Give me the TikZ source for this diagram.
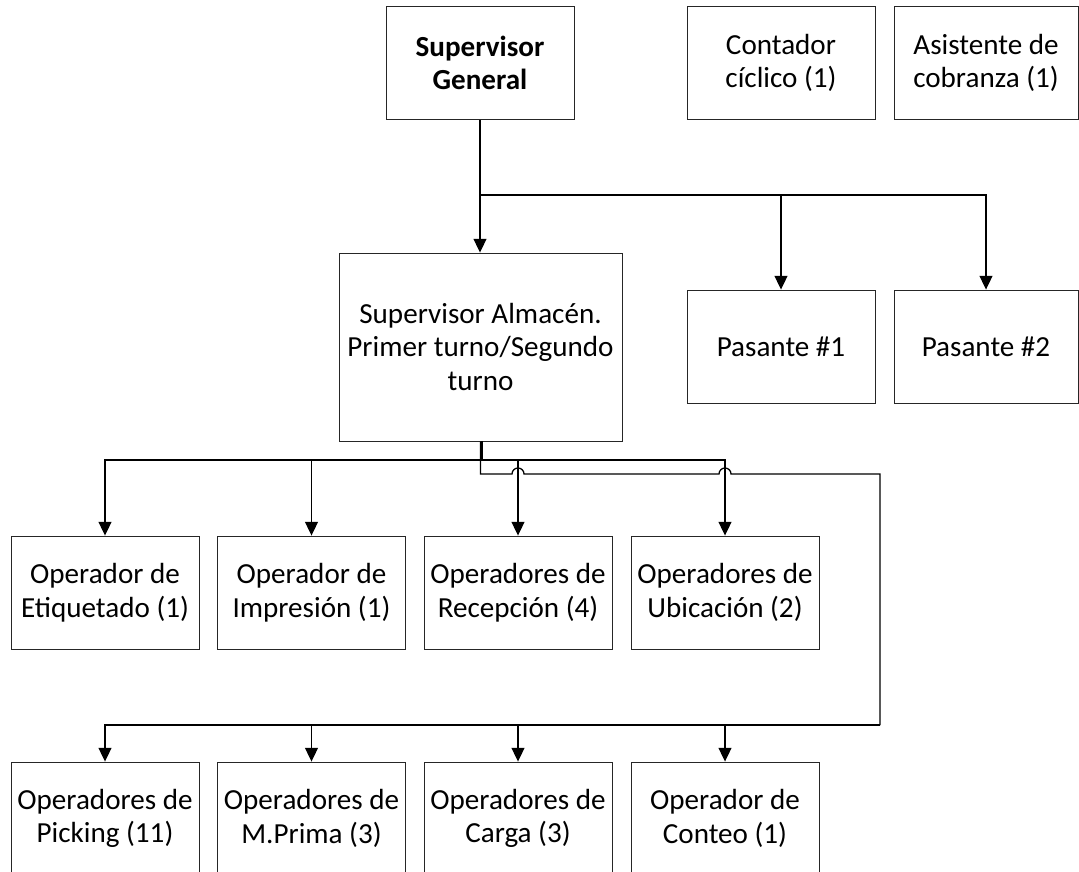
\documentclass[tikz,border=0pt]{standalone}
\usepackage{fontspec}
\setmainfont{Carlito}
\usetikzlibrary{arrows.meta,calc}
\tikzset{
  box/.style={draw=black!85,line width=0.6pt,align=center,inner sep=0pt,
    minimum width=4.7cm,minimum height=2.825cm,font=\fontsize{20.7}{24}\selectfont},
  link/.style={line width=0.9pt,draw=black},
  arr/.style={link,-{Triangle[length=3.4mm,width=3.2mm]}}
}
\begin{document}
\begin{tikzpicture}[x=0.025cm,y=-0.025cm]
    \useasboundingbox (0,0) rectangle (1079,872);
    % top
    \node[box,font=\fontsize{20.7}{24}\selectfont\bfseries] (sg) at (480,63) {Supervisor\\General};
    \node[box] (cc) at (781,63) {Contador\\cíclico (1)};
    \node[box,minimum width=4.6cm] (ac) at (986,63) {Asistente de\\cobranza (1)};
    \node[box,minimum width=7.075cm,minimum height=4.7cm] (sa) at (480.5,347) {Supervisor Almacén.\\Primer turno/Segundo\\turno};
    \node[box] (ps1) at (781,346.5) {Pasante \#1};
    \node[box,minimum width=4.6cm] (ps2) at (986,346.5) {Pasante \#2};
    % row 1
    \node[box] (etq) at (105,592.5) {Operador de\\Etiquetado (1)};
    \node[box] (imp) at (311.5,592.5) {Operador de\\Impresión (1)};
    \node[box] (rec) at (518,592.5) {Operadores de\\Recepción (4)};
    \node[box] (ubi) at (725,592.5) {Operadores de\\Ubicación (2)};
    % row 2
    \node[box] (pck) at (105,818.5) {Operadores de\\Picking (11)};
    \node[box] (mpr) at (311.5,818.5) {Operadores de\\M.Prima (3)};
    \node[box] (car) at (518,818.5) {Operadores de\\Carga (3)};
    \node[box] (cnt) at (725,818.5) {Operador de\\Conteo (1)};
    % links
    \coordinate (rp) at (480,195);
    \draw[arr] (sg) -- (sg |- sa.north);
    \draw[arr] (rp) -| (ps1);
    \draw[arr] (rp) -| (ps2);
    \coordinate (ra) at (482,460);
    \draw[link] (ra |- sa.south) -- (ra);
    \foreach \n in {etq,imp,rec,ubi}
        \draw[arr] (ra) -| (\n);
    \coordinate (rb) at (480.5,474);
    \coordinate (rc) at (880,474);
    \coordinate (rd) at (880,725);
    \draw[link] (rb |- sa.south) -- (rb)
        -- ($(rec.north |- rb)+(-6,0)$) arc[start angle=180,end angle=0,radius=1.5mm]
        -- ($(ubi.north |- rb)+(-6,0)$) arc[start angle=180,end angle=0,radius=1.5mm]
        -- (rc) -- (rd);
    \foreach \n in {pck,mpr,car,cnt}
        \draw[arr] (rd) -| (\n);
\end{tikzpicture}
\end{document}
